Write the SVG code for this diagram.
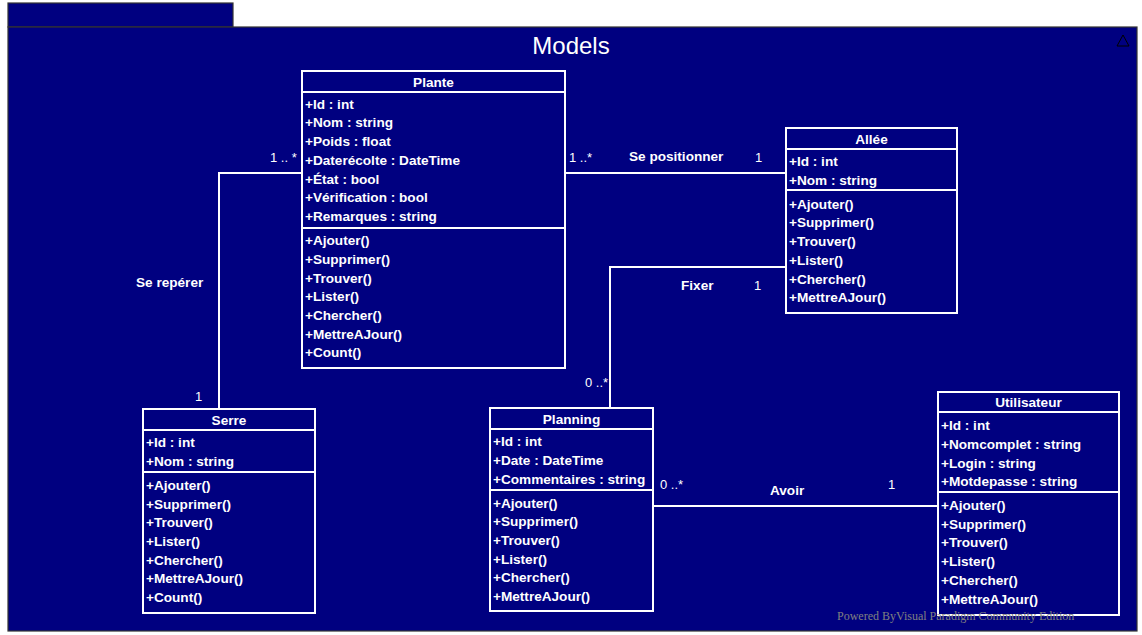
<svg xmlns="http://www.w3.org/2000/svg" width="1142" height="635" viewBox="0 0 1142 635">
<style>
.pkg{fill:#000080;stroke:#333333;stroke-width:1.2}
.box{fill:#000080;stroke:#ffffff;stroke-width:2}
.sep{stroke:#ffffff;stroke-width:2}
.t{font-family:"Liberation Sans",Arial,sans-serif;font-size:13.6px;font-weight:bold;fill:#ffffff}
.h{font-family:"Liberation Sans",Arial,sans-serif;font-size:13.6px;font-weight:bold;fill:#ffffff;text-anchor:middle}
.l{font-family:"Liberation Sans",Arial,sans-serif;font-size:13px;fill:#ffffff}
.lb{font-family:"Liberation Sans",Arial,sans-serif;font-size:13.6px;font-weight:bold;fill:#ffffff}
.c{fill:none;stroke:#ffffff;stroke-width:2}
</style>
<rect width="1142" height="635" fill="#ffffff"/>
<g id="package">
<rect class="pkg" x="8" y="3" width="225" height="24"/>
<rect class="pkg" x="8" y="27" width="1129" height="604"/>
<text x="571" y="54" font-family="Liberation Sans,Arial,sans-serif" font-size="24" fill="#ffffff" text-anchor="middle">Models</text>
<path d="M1123,35 L1117,46 L1129,46 Z" fill="none" stroke="#000000" stroke-width="1"/>
</g>
<g id="connectors">
<polyline class="c" points="302,173 219,173 219,409"/>
<polyline class="c" points="565,173 786,173"/>
<polyline class="c" points="786,267 610,267 610,408"/>
<polyline class="c" points="653,506 938,506"/>
<text class="l" x="270" y="162">1 .. *</text>
<text class="lb" x="136" y="287">Se repérer</text>
<text class="l" x="195" y="401">1</text>
<text class="l" x="569" y="162">1 ..*</text>
<text class="lb" x="629" y="161">Se positionner</text>
<text class="l" x="755" y="162">1</text>
<text class="lb" x="681" y="290">Fixer</text>
<text class="l" x="754" y="290">1</text>
<text class="l" x="585" y="387">0 ..*</text>
<text class="l" x="660" y="489">0 ..*</text>
<text class="lb" x="770" y="495">Avoir</text>
<text class="l" x="888" y="489">1</text>
<text class="l" x="307" y="347">1 .. *</text>
</g>
<g id="plante">
<rect class="box" x="302" y="71" width="263" height="297"/>
<line class="sep" x1="302" y1="92" x2="565" y2="92"/>
<line class="sep" x1="302" y1="228" x2="565" y2="228"/>
<text class="h" x="433.5" y="86.5">Plante</text>
<text class="t" x="305" y="108.5">+Id : int</text>
<text class="t" x="305" y="127">+Nom : string</text>
<text class="t" x="305" y="146">+Poids : float</text>
<text class="t" x="305" y="164.5">+Daterécolte : DateTime</text>
<text class="t" x="305" y="183.5">+État : bool</text>
<text class="t" x="305" y="202">+Vérification : bool</text>
<text class="t" x="305" y="220.5">+Remarques : string</text>
<text class="t" x="305" y="245">+Ajouter()</text>
<text class="t" x="305" y="264">+Supprimer()</text>
<text class="t" x="305" y="282.5">+Trouver()</text>
<text class="t" x="305" y="301">+Lister()</text>
<text class="t" x="305" y="320">+Chercher()</text>
<text class="t" x="305" y="338.5">+MettreAJour()</text>
<text class="t" x="305" y="357">+Count()</text>
</g>
<g id="allee">
<rect class="box" x="786" y="128" width="171" height="185"/>
<line class="sep" x1="786" y1="149" x2="957" y2="149"/>
<line class="sep" x1="786" y1="190" x2="957" y2="190"/>
<text class="h" x="871.5" y="144">Allée</text>
<text class="t" x="789" y="165.5">+Id : int</text>
<text class="t" x="789" y="185">+Nom : string</text>
<text class="t" x="789" y="208.5">+Ajouter()</text>
<text class="t" x="789" y="227">+Supprimer()</text>
<text class="t" x="789" y="245.5">+Trouver()</text>
<text class="t" x="789" y="264.5">+Lister()</text>
<text class="t" x="789" y="283.5">+Chercher()</text>
<text class="t" x="789" y="302">+MettreAJour()</text>
</g>
<g id="serre">
<rect class="box" x="143" y="409" width="172" height="204"/>
<line class="sep" x1="143" y1="430" x2="315" y2="430"/>
<line class="sep" x1="143" y1="472" x2="315" y2="472"/>
<text class="h" x="229" y="425">Serre</text>
<text class="t" x="146" y="446.5">+Id : int</text>
<text class="t" x="146" y="466">+Nom : string</text>
<text class="t" x="146" y="489.5">+Ajouter()</text>
<text class="t" x="146" y="508.5">+Supprimer()</text>
<text class="t" x="146" y="527">+Trouver()</text>
<text class="t" x="146" y="545.5">+Lister()</text>
<text class="t" x="146" y="564.5">+Chercher()</text>
<text class="t" x="146" y="583">+MettreAJour()</text>
<text class="t" x="146" y="601.5">+Count()</text>
</g>
<g id="planning">
<rect class="box" x="490" y="408" width="163" height="203"/>
<line class="sep" x1="490" y1="429" x2="653" y2="429"/>
<line class="sep" x1="490" y1="490" x2="653" y2="490"/>
<text class="h" x="571.5" y="424">Planning</text>
<text class="t" x="493" y="445.5">+Id : int</text>
<text class="t" x="493" y="465">+Date : DateTime</text>
<text class="t" x="493" y="483.5">+Commentaires : string</text>
<text class="t" x="493" y="507.5">+Ajouter()</text>
<text class="t" x="493" y="526">+Supprimer()</text>
<text class="t" x="493" y="545">+Trouver()</text>
<text class="t" x="493" y="563.5">+Lister()</text>
<text class="t" x="493" y="582">+Chercher()</text>
<text class="t" x="493" y="601">+MettreAJour()</text>
</g>
<g id="utilisateur">
<rect class="box" x="938" y="392" width="181" height="223"/>
<line class="sep" x1="938" y1="412" x2="1119" y2="412"/>
<line class="sep" x1="938" y1="492" x2="1119" y2="492"/>
<text class="h" x="1028.5" y="407">Utilisateur</text>
<text class="t" x="941" y="429.5">+Id : int</text>
<text class="t" x="941" y="449">+Nomcomplet : string</text>
<text class="t" x="941" y="467.5">+Login : string</text>
<text class="t" x="941" y="486">+Motdepasse : string</text>
<text class="t" x="941" y="510">+Ajouter()</text>
<text class="t" x="941" y="528.5">+Supprimer()</text>
<text class="t" x="941" y="547">+Trouver()</text>
<text class="t" x="941" y="565.5">+Lister()</text>
<text class="t" x="941" y="584.5">+Chercher()</text>
<text class="t" x="941" y="603.5">+MettreAJour()</text>
</g>
<text x="837" y="620" font-family="Liberation Serif,Times New Roman,serif" font-size="12" fill="#808080">Powered ByVisual Paradigm Community Edition</text>
</svg>
